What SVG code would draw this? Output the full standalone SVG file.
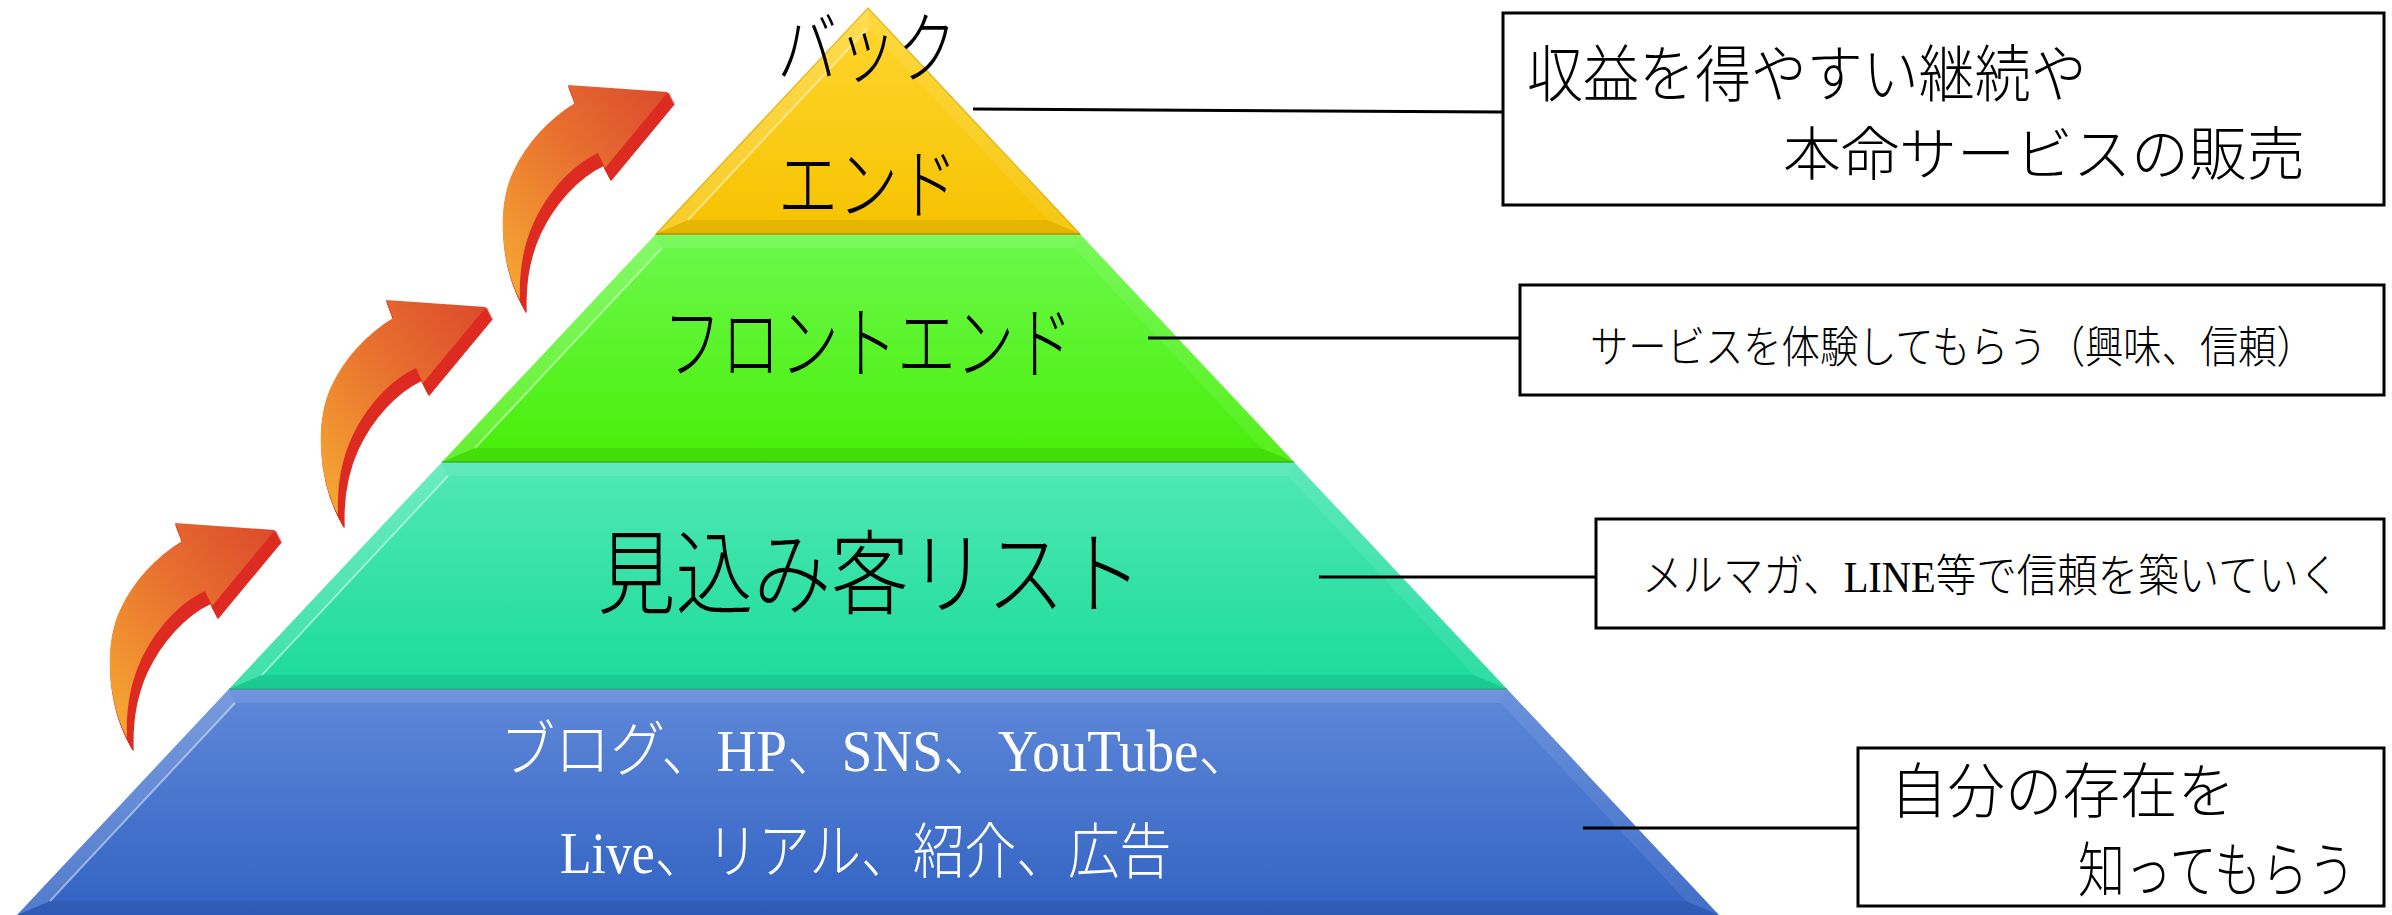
<svg xmlns="http://www.w3.org/2000/svg" xmlns:xlink="http://www.w3.org/1999/xlink" width="2392" height="915" viewBox="0 0 2392 915">
<style>
.t { font-family: "Liberation Serif", "Noto Sans CJK JP", serif; font-weight: 300; fill: #000; }
.w { fill: #fff; }
.m { text-anchor: middle; }
.box { fill: #fff; stroke: #000; stroke-width: 3; }
.con { stroke: #000; stroke-width: 3; fill: none; }
.hl { fill: #fff; opacity: 0.16; }
.hr { fill: #fff; opacity: 0.08; }
.bt { fill: #000; opacity: 0.07; }
.tp { fill: #fff; opacity: 0.1; }
.edge { fill: none; stroke: #fff; stroke-opacity: 0.45; stroke-width: 2; }
.ext { fill: #DE2B22; stroke: #DE2B22; stroke-width: 1.5; stroke-linejoin: round; }
</style>
<defs>
<linearGradient id="gy" x1="0" y1="0" x2="0" y2="1"><stop offset="0" stop-color="#FFD630"/><stop offset="1" stop-color="#F6C300"/></linearGradient>
<linearGradient id="gg" x1="0" y1="0" x2="0" y2="1"><stop offset="0" stop-color="#6CF94C"/><stop offset="1" stop-color="#48EE08"/></linearGradient>
<linearGradient id="gt" x1="0" y1="0" x2="0" y2="1"><stop offset="0" stop-color="#50E8B5"/><stop offset="1" stop-color="#1BDB9B"/></linearGradient>
<linearGradient id="gb" x1="0" y1="0" x2="0" y2="1"><stop offset="0" stop-color="#5F88D8"/><stop offset="1" stop-color="#3263C3"/></linearGradient>
<linearGradient id="ga" x1="0" y1="1" x2="1" y2="0"><stop offset="0" stop-color="#F7AC33"/><stop offset="0.55" stop-color="#E8702F"/><stop offset="1" stop-color="#DB4A2C"/></linearGradient>
<path id="arrowFace" d="M520,300 C500,262 497,205 513,172 C527,142 548,120 575,103 L568,85 L668,92 L605,168 L598,153 C572,165 548,192 534,222 C522,248 519,275 520,300 Z"/>
<g id="arrow">
<use xlink:href="#arrowFace" class="ext" transform="translate(1,2)"/>
<use xlink:href="#arrowFace" class="ext" transform="translate(2,4)"/>
<use xlink:href="#arrowFace" class="ext" transform="translate(3,6)"/>
<use xlink:href="#arrowFace" class="ext" transform="translate(4,8)"/>
<use xlink:href="#arrowFace" class="ext" transform="translate(5,10)"/>
<use xlink:href="#arrowFace" class="ext" transform="translate(6,12)"/>
<use xlink:href="#arrowFace" fill="url(#ga)"/>
</g>
</defs>

<g id="arrows">
<use xlink:href="#arrow"/>
<use xlink:href="#arrow" transform="translate(-182,215)"/>
<use xlink:href="#arrow" transform="translate(-393,438)"/>
</g>

<g id="layer-blue">
<polygon points="229,689 1507,689 1719,915 17,915" fill="url(#gb)"/>
<polygon class="hl" points="229,689 235,703 50,901 17,915"/>
<polygon class="hr" points="1507,689 1719,915 1686,901 1501,703"/>
<polygon class="tp" points="229,689 1507,689 1501,703 235,703"/>
<polygon class="bt" points="17,915 50,901 1686,901 1719,915"/>
<line class="edge" x1="235" y1="703" x2="50" y2="901"/>
<text class="t w" font-size="60" transform="translate(500 771) scale(0.918 1)">ブログ、HP、SNS、YouTube、</text>
<text class="t w" font-size="60" transform="translate(560 873) scale(0.862 1)">Live、リアル、紹介、広告</text>
</g>

<g id="layer-teal">
<polygon points="442,462 1294,462 1507,689 229,689" fill="url(#gt)"/>
<polygon class="hl" points="442,462 448,476 262,675 229,689"/>
<polygon class="hr" points="1294,462 1507,689 1474,675 1288,476"/>
<polygon class="tp" points="442,462 1294,462 1288,476 448,476"/>
<polygon class="bt" points="229,689 262,675 1474,675 1507,689"/>
<line class="edge" x1="448" y1="476" x2="262" y2="675"/>
<line x1="229" y1="689" x2="1507" y2="689" stroke="#2E9F7C" stroke-width="2" opacity="0.6"/>
<text class="t m" font-size="92" transform="translate(870 607) scale(0.846 1)">見込み客リスト</text>
</g>

<g id="layer-green">
<polygon points="656,234 1080,234 1294,462 442,462" fill="url(#gg)"/>
<polygon class="hl" points="656,234 662,248 475,448 442,462"/>
<polygon class="hr" points="1080,234 1294,462 1261,448 1074,248"/>
<polygon class="tp" points="656,234 1080,234 1074,248 662,248"/>
<polygon class="bt" points="442,462 475,448 1261,448 1294,462"/>
<line class="edge" x1="662" y1="248" x2="475" y2="448"/>
<line x1="442" y1="462" x2="1294" y2="462" stroke="#3C9E2A" stroke-width="2" opacity="0.6"/>
<text class="t m" font-size="80" transform="translate(868 372) scale(0.732 1)">フロントエンド</text>
</g>

<g id="layer-yellow">
<polygon points="868,8 1080,234 656,234" fill="url(#gy)"/>
<polygon class="hl" points="868,8 868,28 688,220 656,234"/>
<polygon class="hr" points="868,8 1080,234 1048,220 868,28"/>
<polygon class="bt" points="656,234 688,220 1048,220 1080,234"/>
<line class="edge" x1="868" y1="28" x2="688" y2="220"/>
<polygon points="868,8 1080,234 656,234" fill="none" stroke="#D9A800" stroke-width="1.5" opacity="0.7"/>
<line x1="656" y1="234" x2="1080" y2="234" stroke="#A88A10" stroke-width="2" opacity="0.6"/>
<text class="t m" font-size="78" transform="translate(867 77) scale(0.769 1)">バック</text>
<text class="t m" font-size="78" transform="translate(868 213) scale(0.769 1)">エンド</text>
</g>

<g id="connectors">
<line class="con" x1="973" y1="109" x2="1502" y2="112"/>
<line class="con" x1="1148" y1="338" x2="1520" y2="338"/>
<line class="con" x1="1319" y1="577" x2="1596" y2="577"/>
<line class="con" x1="1583" y1="828" x2="1858" y2="828"/>
</g>

<g id="box-back">
<rect class="box" x="1503" y="13" width="881" height="192"/>
<text class="t" font-size="62" transform="translate(1527 97) scale(0.903 1)">収益を得やすい継続や</text>
<text class="t" font-size="58" x="1783" y="175">本命サービスの販売</text>
</g>

<g id="box-front">
<rect class="box" x="1520" y="285" width="864" height="110"/>
<text class="t" font-size="44" transform="translate(1590 363) scale(0.871 1)">サービスを体験してもらう（興味、信頼）</text>
</g>

<g id="box-list">
<rect class="box" x="1596" y="519" width="788" height="109"/>
<text class="t" font-size="45" transform="translate(1642 592) scale(0.9 1)">メルマガ、LINE等で信頼を築いていく</text>
</g>

<g id="box-aware">
<rect class="box" x="1858" y="748" width="526" height="158"/>
<text class="t" font-size="60" transform="translate(1890 813) scale(0.958 1)">自分の存在を</text>
<text class="t" font-size="60" transform="translate(2078 892) scale(0.783 1)">知ってもらう</text>
</g>
</svg>
